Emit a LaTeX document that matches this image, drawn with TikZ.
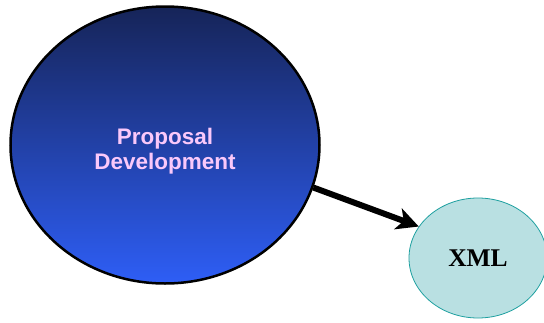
\documentclass[tikz,border=0pt]{standalone}
\usepackage{fontspec}
\setmainfont{Liberation Serif}
\setsansfont{Liberation Sans}
\usetikzlibrary{shapes.geometric,arrows.meta}
\definecolor{navytop}{RGB}{22,36,88}
\definecolor{bluebot}{RGB}{46,94,246}
\definecolor{pinktext}{RGB}{250,200,250}
\definecolor{cyanfill}{RGB}{185,224,226}
\definecolor{tealline}{RGB}{30,160,160}
\tikzset{
  bigoval/.style={ellipse, draw=black, line width=2.5pt, inner sep=0pt,
    minimum width=309pt, minimum height=277pt,
    top color=navytop, bottom color=bluebot,
    text=pinktext, align=center,
    font=\sffamily\bfseries\fontsize{22.5}{25}\selectfont},
  smalloval/.style={ellipse, draw=tealline, line width=0.8pt, inner sep=0pt,
    minimum width=138pt, minimum height=120pt, fill=cyanfill,
    font=\bfseries\fontsize{25.5}{28}\selectfont},
  thickarrow/.style={line width=6pt,
    -{Stealth[length=22pt,width=22pt,inset=6pt]}}
}
\begin{document}
\begin{tikzpicture}[x=1pt,y=-1pt]
        \useasboundingbox (0,0) rectangle (544,322);
        \begin{scope}
        \clip (0,0) rectangle (544,322);
        \node[bigoval] (prop) at (165,145) {\rule{0pt}{28pt}Proposal\\Development};
        \node[smalloval] (xml) at (478,258) {XML};
        \draw[thickarrow] (prop.-16)--(xml.152);
        \end{scope}
\end{tikzpicture}
\end{document}
